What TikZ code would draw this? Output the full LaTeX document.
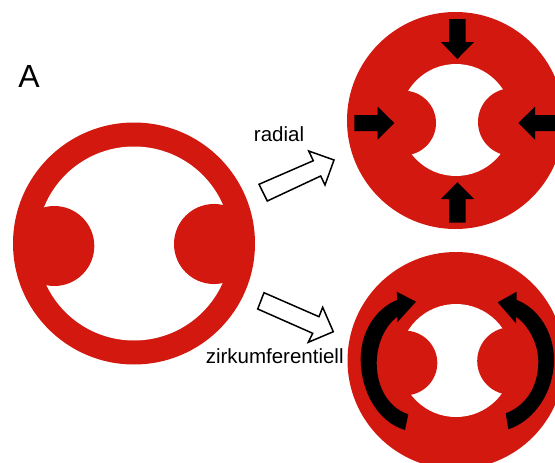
\documentclass[tikz,border=0pt]{standalone}
\usepackage{fontspec}
\setmainfont{Liberation Sans}
\definecolor{wallred}{HTML}{D2180F}
\tikzset{
  wall/.style={fill=wallred,draw=none},
  lumen/.style={fill=white,draw=none},
  force/.style={fill=black,draw=none},
  hollowarrow/.style={fill=white,draw=black,line width=1.5pt,line join=miter},
  caption/.style={font=\fontsize{20.5}{24}\selectfont,text=black,inner sep=0pt,anchor=base}
}
\begin{document}
\begin{tikzpicture}[x=1pt,y=-1pt]
\useasboundingbox (0,0) rectangle (555,463);
\clip (0,0) rectangle (555,463);

% resting vessel
\fill[wall] (134,243.5) circle (121);
\fill[lumen] (134,243.5) circle (97);
\fill[wall] (54.3,246) circle (40);
\fill[wall] (214,244) circle (40);

% radially loaded vessel
\fill[wall] (455.5,120.5) circle (108.5);
\fill[lumen] (456,120) circle (56);
\fill[wall] (403.7,123) circle (32.3);
\fill[wall] (511.8,122) circle (33.8);

% radial force arrows
\fill[force] (449,19) -- (465.7,19) -- (465.7,42) -- (474,42) -- (457.3,59) -- (441,42) -- (449,42) -- cycle;
\fill[force] (449,222.7) -- (465.7,222.7) -- (465.7,199) -- (474,199) -- (457.3,182.3) -- (441,199) -- (449,199) -- cycle;
\fill[force] (354.3,115) -- (377.7,115) -- (377.7,106.7) -- (394.3,123) -- (377.7,139.7) -- (377.7,131) -- (354.3,131) -- cycle;
\fill[force] (556,115) -- (535,115) -- (535,106.7) -- (518.3,123) -- (535,139.7) -- (535,131) -- (556,131) -- cycle;

% circumferentially loaded vessel
\fill[wall] (456,360.5) circle (108.5);
\fill[lumen] (456,360.5) circle (56.5);
\fill[wall] (405,363) circle (32.3);
\fill[wall] (511,361) circle (33.8);

% circumferential force arrows
\fill[force] (405,430) .. controls (378,422) and (360.7,392) .. (360.7,358.3)
  .. controls (360.7,332) and (376,308) .. (397.3,300)
  -- (396.7,291.7) -- (416,301.7) -- (397.3,322.3) -- (397.3,316.7)
  .. controls (385,326) and (376.7,344) .. (376.7,363)
  .. controls (376.7,388) and (389,408) .. (408.3,414.3) -- cycle;
\fill[force] (508.3,429.3) .. controls (534,421) and (554,392) .. (554,360)
  .. controls (554,332) and (538,308) .. (516.7,300)
  -- (516.7,291.7) -- (497.7,302.3) -- (516,323.3) -- (516,316.7)
  .. controls (529,326) and (538.3,344) .. (538.3,361.7)
  .. controls (538.3,388) and (525,406) .. (505.7,413.3) -- cycle;

% transition arrows
\draw[hollowarrow] (259,184.3) -- (267.3,201) -- (320.7,176) -- (325,185) -- (334,160) -- (308.7,151) -- (313.3,160.7) -- cycle;
\draw[hollowarrow] (264,292.7) -- (257.7,309) -- (312.7,333.3) -- (308.3,342.3) -- (333.3,331.7) -- (322.7,307.3) -- (319,316.7) -- cycle;

% labels
\node[font=\fontsize{32}{36}\selectfont,text=black,inner sep=0pt,anchor=base] (panel) at (29,87.7) {A};
\node[caption] (radial) at (279,141.7) {radial};
\node[caption] (zirk) at (274.7,363.3) {zirkumferentiell};
\end{tikzpicture}
\end{document}
